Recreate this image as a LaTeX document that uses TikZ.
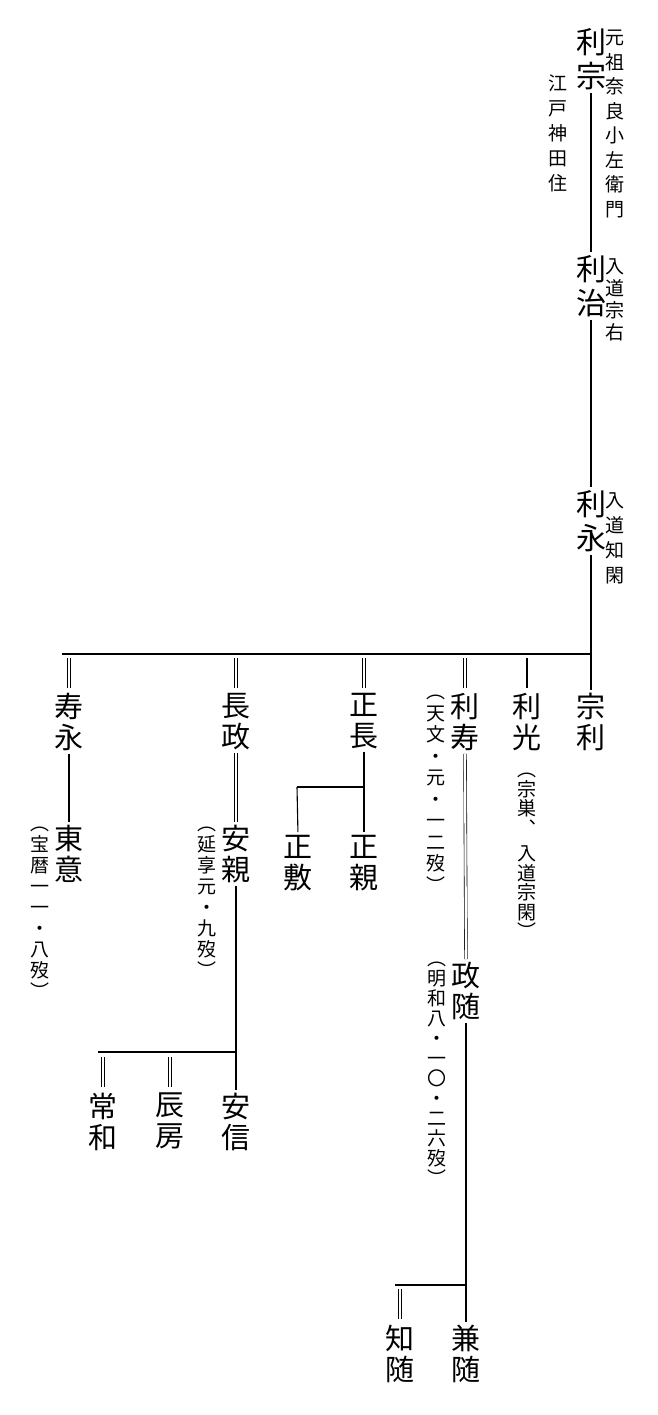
\documentclass[tikz,border=0pt]{standalone}
\usepackage{fontspec}
\newfontfamily\cjk{Noto Sans CJK JP}
\begin{document}
\begin{tikzpicture}[x=1pt,y=-1pt,
  big/.style={inner sep=0pt, anchor=north, align=center, font=\cjk\fontsize{30}{34}\selectfont},
  mid/.style={inner sep=0pt, anchor=north, align=center, font=\cjk\fontsize{29}{31}\selectfont},
  ann/.style={inner sep=0pt, anchor=north, align=center, font=\cjk\fontsize{19}{#1}\selectfont},
  ln/.style={line width=1.1pt},
  dbl/.style={double, double distance=2.2pt, line width=0.6pt},
  gap/.style={shorten <=3pt, shorten >=3pt}]
\useasboundingbox (0,0) rectangle (657,1415);
% top generations
\node[big] (rizong) at (591,28) {利\\宗};
\node[ann=24.5] (a1) at (615,30) {元\\祖\\奈\\良\\小\\左\\衛\\門};
\node[ann=25] (a1b) at (558,75) {江\\戸\\神\\田\\住};
\node[big] (rizhi) at (591,255) {利\\治};
\node[ann=22] (a2) at (615,258) {入\\道\\宗\\右};
\node[big] (riei) at (591,490) {利\\永};
\node[ann=25] (a3) at (615,492) {入\\道\\知\\閑};
% children row
\node[mid] (zongli) at (591,693) {宗\\利};
\node[mid] (rikou) at (527,693) {利\\光};
\node[ann=19.5] (a4) at (527,773) {︵\\宗\\巣\\︑\\[6pt]入\\道\\宗\\閑\\︶};
\node[mid] (rijyu) at (465,693) {利\\寿};
\node[ann=21.5] (a5) at (436,695) {︵\\天\\文\\・\\元\\・\\一\\二\\歿\\︶};
\node[mid] (masanaga) at (364,693) {正\\長};
\node[mid] (nagamasa) at (236,693) {長\\政};
\node[mid] (jyuei) at (69,693) {寿\\永};
% grandchildren
\node[mid] (toui) at (69,825) {東\\意};
\node[ann=21] (a6) at (40,827) {︵\\宝\\暦\\一\\一\\・\\八\\歿\\︶};
\node[mid] (yasuchika) at (236,825) {安\\親};
\node[ann=21] (a7) at (207,827) {︵\\延\\享\\元\\・\\九\\歿\\︶};
\node[mid] (masashiki) at (298,835) {正\\敷};
\node[mid] (masachika) at (364,835) {正\\親};
\node[mid] (masayori) at (466,962) {政\\随};
\node[ann=20] (a8) at (437,962) {︵\\明\\和\\八\\・\\一\\〇\\・\\二\\六\\歿\\︶};
\node[mid] (tsunekazu) at (103,1093) {常\\和};
\node[mid] (tatsufusa) at (170,1093) {辰\\房};
\node[mid] (yasunobu) at (236,1093) {安\\信};
\node[mid] (tomoyori) at (400,1325) {知\\随};
\node[mid] (kaneyori) at (466,1325) {兼\\随};
% connectors
\draw[ln,gap] (rizong.south) -- (rizhi.north);
\draw[ln,gap] (rizhi.south) -- (riei.north);
\draw[ln,gap] (riei.south) -- (zongli.north);
\coordinate (barR) at (591,654);
\coordinate (barL) at (62,654);
\draw[ln] (barL) -- (barR);
\coordinate (t1) at (69,658);
\coordinate (t2) at (236,658);
\coordinate (t3) at (364,658);
\coordinate (t4) at (465,658);
\coordinate (t5) at (527,658);
\draw[dbl,shorten >=5pt] (t1) -- (jyuei.north);
\draw[dbl,shorten >=5pt] (t2) -- (nagamasa.north);
\draw[dbl,shorten >=5pt] (t3) -- (masanaga.north);
\draw[dbl,shorten >=5pt] (t4) -- (rijyu.north);
\draw[ln,shorten >=5pt] (t5) -- (rikou.north);
\draw[ln,gap] (jyuei.south) -- (toui.north);
\draw[dbl,gap] (nagamasa.south) -- (yasuchika.north);
\draw[dbl,gap] (rijyu.south) -- (masayori.north);
% 正長 branch
\coordinate (j1) at (364,787);
\coordinate (j1l) at (297,787);
\draw[ln,gap] (masanaga.south) -- (masachika.north);
\draw[ln] (j1) -- (j1l);
\draw[ln,shorten >=3pt] (j1l) -- (masashiki.north);
% 安親 branch
\coordinate (j2) at (236,1052);
\coordinate (j2l) at (98,1052);
\coordinate (t6) at (103,1057);
\coordinate (t7) at (170,1057);
\draw[ln,gap] (yasuchika.south) -- (yasunobu.north);
\draw[ln] (j2) -- (j2l);
\draw[dbl,shorten >=6pt] (t6) -- (tsunekazu.north);
\draw[dbl,shorten >=6pt] (t7) -- (tatsufusa.north);
% 政随 branch
\coordinate (j3) at (466,1285);
\coordinate (j3l) at (395,1285);
\coordinate (t8) at (400,1289);
\draw[ln,gap] (masayori.south) -- (kaneyori.north);
\draw[ln] (j3) -- (j3l);
\draw[dbl,shorten >=6pt] (t8) -- (tomoyori.north);
\end{tikzpicture}
\end{document}
